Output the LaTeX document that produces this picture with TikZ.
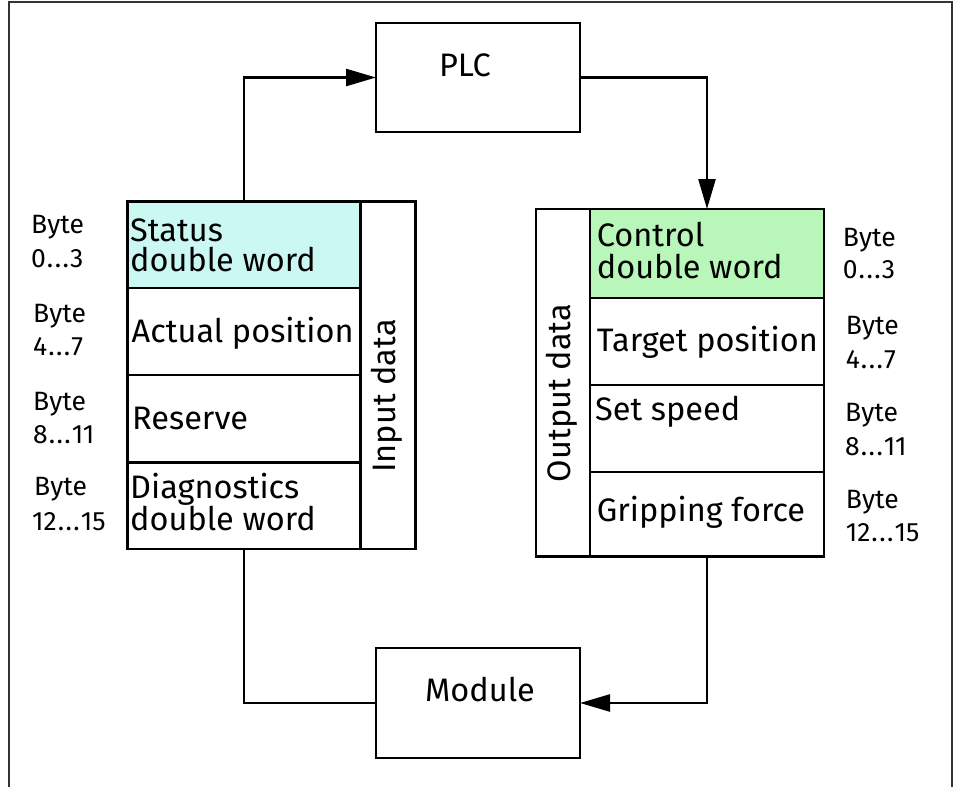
\documentclass[tikz,border=0pt]{standalone}
\usepackage{fontspec}
\setmainfont{Fira Sans}
\usetikzlibrary{arrows.meta}
\definecolor{statusfill}{HTML}{CCF8F4}
\definecolor{ctrlfill}{HTML}{B9F6B9}
\definecolor{framecol}{HTML}{333333}
\newcommand{\dotsx}{\kern1pt.\kern1.5pt.\kern1.5pt.\kern1pt}
\begin{document}
\begin{tikzpicture}[x=1pt,y=-1pt,
  blk/.style={draw, line width=2.5pt, inner sep=0pt, outer sep=0pt},
  conn/.style={line width=2.5pt},
  arr/.style={conn, -{Triangle[length=30pt,width=17pt]}},
  lbl/.style={font=\fontsize{32.5}{31}\selectfont, inner sep=0pt, anchor=base west},
  bytelbl/.style={font=\fontsize{26.5}{34}\selectfont, inner sep=0pt, anchor=base west},
  rotlbl/.style={font=\fontsize{32.5}{31}\selectfont, inner sep=0pt, rotate=90}]
\useasboundingbox (0,0) rectangle (954,787);
\fill[white] (0,0) rectangle (954,787);
% frame
\draw[line width=2pt, framecol] (8.7,787) -- (8.7,2) -- (952.3,2) -- (952.3,787);

% PLC and Module
\node[blk, minimum width=204pt, minimum height=109pt] (plc) at (478,77.5) {};
\node[lbl, anchor=base] (plctxt) at (465,76.7) {PLC};
\node[blk, minimum width=204pt, minimum height=110pt] (module) at (478,703) {};
\node[lbl, anchor=base] (modtxt) at (480,701.7) {Module};

% left block
\node[blk, fill=statusfill, minimum width=233pt, minimum height=86.3pt] (status) at (244.2,244.85) {};
\node[blk, minimum width=233pt, minimum height=87pt] (actual) at (244.2,331.5) {};
\node[blk, minimum width=233pt, minimum height=87.7pt] (reserve) at (244.2,418.85) {};
\node[blk, minimum width=233pt, minimum height=86.3pt] (diag) at (244.2,505.85) {};
\node[blk, minimum width=55pt, minimum height=347.3pt] (input) at (388.2,375.35) {};
\node[rotlbl] (inputtxt) at (387,396) {Input data};

\node[lbl] (t1a) at (130,241) {Status};
\node[lbl] (t1b) at (130,271.7) {double word};
\node[lbl] (t2) at (131.5,342.7) {Actual position};
\node[lbl] (t3) at (132,429.3) {Reserve};
\node[lbl] (t4a) at (130,498.3) {Diagnostics};
\node[lbl] (t4b) at (130,530) {double word};

\node[bytelbl] (lb1a) at (31,233.3) {Byte};
\node[bytelbl] (lb1b) at (31,267.7) {0\dotsx3};
\node[bytelbl] (lb2a) at (33,322.7) {Byte};
\node[bytelbl] (lb2b) at (33,355) {4\dotsx7};
\node[bytelbl] (lb3a) at (33,410) {Byte};
\node[bytelbl] (lb3b) at (33,443.3) {8\dotsx11};
\node[bytelbl] (lb4a) at (34,495) {Byte};
\node[bytelbl] (lb4b) at (32,530) {12\dotsx15};

% right block
\node[blk, minimum width=54pt, minimum height=347.7pt] (output) at (563,382.85) {};
\node[rotlbl] (outputtxt) at (562,393) {Output data};
\node[blk, fill=ctrlfill, minimum width=234pt, minimum height=89pt] (ctrl) at (707,253.5) {};
\node[blk, minimum width=234pt, minimum height=87pt] (target) at (707,341.5) {};
\node[blk, minimum width=234pt, minimum height=87pt] (speed) at (707,428.5) {};
\node[blk, minimum width=234pt, minimum height=84.7pt] (grip) at (707,514.35) {};

\node[lbl] (r1a) at (596.7,246.3) {Control};
\node[lbl] (r1b) at (596.7,278) {double word};
\node[lbl] (r2) at (596.7,351.7) {Target position};
\node[lbl] (r3) at (595,420.7) {Set speed};
\node[lbl] (r4) at (596.7,521.7) {Gripping force};

\node[bytelbl] (rb1a) at (842.7,246) {Byte};
\node[bytelbl] (rb1b) at (842.7,278.3) {0\dotsx3};
\node[bytelbl] (rb2a) at (845.7,334) {Byte};
\node[bytelbl] (rb2b) at (845.7,368.3) {4\dotsx7};
\node[bytelbl] (rb3a) at (845,421.7) {Byte};
\node[bytelbl] (rb3b) at (845,455) {8\dotsx11};
\node[bytelbl] (rb4a) at (845.7,508.3) {Byte};
\node[bytelbl] (rb4b) at (845.7,541.7) {12\dotsx15};

% connectors
\draw[arr] (status.north) |- (plc.west);
\draw[arr] (plc.east) -| (ctrl.north);
\draw[conn] (diag.south) |- (module.west);
\draw[arr] (grip.south) |- (module.east);
\end{tikzpicture}
\end{document}
